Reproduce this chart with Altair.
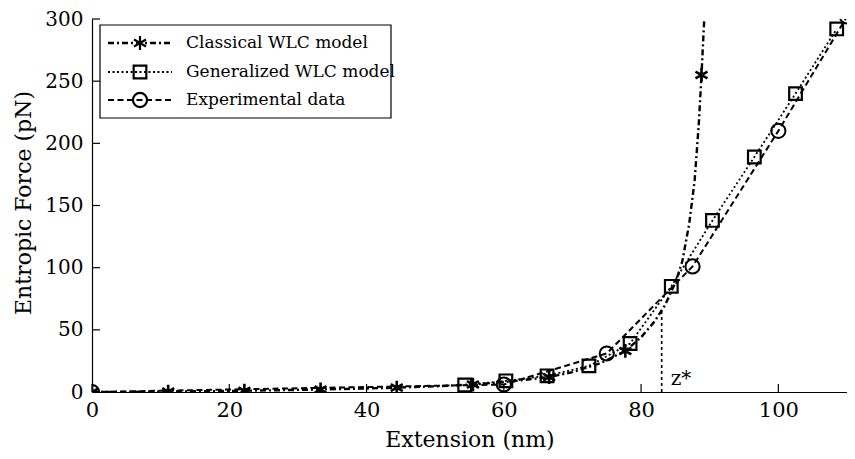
import altair as alt
import pandas as pd

# ---- data ----
classical_line_x = [0, 5, 11.1, 16, 22.2, 28, 33.3, 39, 44.4, 50, 55.5, 61, 66.6, 70, 74, 77.7, 80, 82, 83.5, 85, 86, 87, 87.8, 88.4, 88.8, 89.2]
classical_line_y = [0, 0.1, 0.3, 0.6, 1, 1.5, 2, 2.7, 3.5, 4.6, 6, 8.5, 12, 16, 23, 33, 44, 57, 70, 88, 105, 135, 170, 215, 255, 300]
classical_mark_x = [0, 11.1, 22.2, 33.3, 44.4, 55.5, 66.6, 77.7, 88.8]
classical_mark_y = [0, 0.3, 1, 2, 3.5, 6, 12, 33, 255]

generalized_x = [54.3, 60.3, 66.3, 72.4, 78.4, 84.4, 90.4, 96.5, 102.5, 108.5]
generalized_y = [5.6, 9, 13, 21, 39, 85, 138, 189, 240, 292]

experimental_x = [0, 60, 75, 87.5, 100, 110]
experimental_y = [0, 6, 31, 101, 210, 302]

legend_labels = ["Classical WLC model", "Generalized WLC model", "Experimental data"]
x_ticks = [0, 20, 40, 60, 80, 100]
y_ticks = [0, 50, 100, 150, 200, 250, 300]
z_star_x = [83.0, 83.0]
z_star_y = [0, 67]
z_star_label = "z*"

FONT = "DejaVu Serif"
W, H = 755, 373

xs = alt.Scale(domain=[0, 110], nice=False, zero=False)
ys = alt.Scale(domain=[0, 300], nice=False, zero=False)
common = dict(grid=False, tickSize=0, labelFont=FONT, titleFont=FONT,
              titleFontSize=22, titleFontWeight="normal", labelColor="black", titleColor="black",
              domainColor="black", domainWidth=1.2, titleBaseline="middle")
x_axis = alt.Axis(values=x_ticks, title="Extension (nm)", labelPadding=7, titleY=47,
                  labelFlush=False, labelFontSize=21, **common)
y_axis = alt.Axis(values=y_ticks, title="Entropic Force (pN)", labelPadding=9, titleX=-69,
                  titleY=H / 2 - 3, labelFontSize=20, **common)


def X(f):
    return alt.X(f, type="quantitative", scale=xs, axis=x_axis)


def Y(f):
    return alt.Y(f, type="quantitative", scale=ys, axis=y_axis)


cl_line_df = pd.DataFrame({"x": classical_line_x, "y": classical_line_y})
cl_mark_df = pd.DataFrame({"x": classical_mark_x, "y": classical_mark_y})
gen_df = pd.DataFrame({"x": generalized_x, "y": generalized_y})
exp_df = pd.DataFrame({"x": experimental_x, "y": experimental_y})
zs_df = pd.DataFrame({"x": z_star_x, "y": z_star_y})

STAR = "M0,-1L0,1M-0.87,-0.5L0.87,0.5M-0.87,0.5L0.87,-0.5"
DASH_CL = [6, 3, 2, 3]
DASH_GEN = [2, 2.5]
DASH_EXP = [6, 3.5]

layers = []

# z* guide
layers.append(alt.Chart(zs_df).mark_line(color="black", strokeWidth=1.6, strokeDash=[3, 3]).encode(x=X("x"), y=Y("y")))
layers.append(alt.Chart(pd.DataFrame({"x": [z_star_x[0]], "y": [0], "t": [z_star_label]})).mark_text(
    font=FONT, fontSize=20, align="left", baseline="bottom", dx=9, dy=-3, fill="black").encode(
    x=X("x"), y=Y("y"), text="t:N"))

# curves
layers.append(alt.Chart(exp_df).mark_line(color="black", strokeWidth=2, strokeDash=DASH_EXP, clip=True).encode(x=X("x"), y=Y("y")))
layers.append(alt.Chart(gen_df).mark_line(color="black", strokeWidth=1.8, strokeDash=DASH_GEN, clip=True).encode(x=X("x"), y=Y("y")))
layers.append(alt.Chart(cl_line_df).mark_line(color="black", strokeWidth=2.4, strokeDash=DASH_CL, clip=True).encode(x=X("x"), y=Y("y")))

# markers
layers.append(alt.Chart(exp_df).mark_point(shape="circle", size=200, filled=False, color="black", strokeWidth=2, opacity=1, clip=True).encode(x=X("x"), y=Y("y")))
layers.append(alt.Chart(gen_df).mark_point(shape="square", size=160, filled=False, color="black", strokeWidth=2.2, opacity=1, clip=True).encode(x=X("x"), y=Y("y")))
layers.append(alt.Chart(cl_mark_df).mark_point(shape=STAR, size=190, filled=False, color="black", strokeWidth=2.6, opacity=1, clip=True).encode(x=X("x"), y=Y("y")))

# inward ticks
layers.append(alt.Chart(pd.DataFrame({"v": x_ticks})).mark_rule(color="black", strokeWidth=1.2).encode(
    x=X("v"), y=alt.value(H), y2=alt.value(H - 8)))
layers.append(alt.Chart(pd.DataFrame({"v": y_ticks})).mark_rule(color="black", strokeWidth=1.2).encode(
    y=Y("v"), x=alt.value(0), x2=alt.value(8)))

# legend box
one = pd.DataFrame({"a": [0]})
layers.append(alt.Chart(one).mark_rect(fill="white", stroke="black", strokeWidth=1.2).encode(
    x=alt.value(8), x2=alt.value(299), y=alt.value(6), y2=alt.value(99)))

row_y = [24, 53, 81]
dashes = [DASH_CL, DASH_GEN, DASH_EXP]
shapes = [STAR, "square", "circle"]
sizes = [190, 160, 200]
widths = [2.4, 1.8, 2]
for i, lab in enumerate(legend_labels):
    d = pd.DataFrame({"label": [lab]})
    layers.append(alt.Chart(d).mark_rule(color="black", strokeWidth=widths[i], strokeDash=dashes[i]).encode(
        x=alt.value(16), x2=alt.value(80), y=alt.value(row_y[i])))
    layers.append(alt.Chart(d).mark_point(shape=shapes[i], size=sizes[i], filled=False, color="black",
                                          strokeWidth=2.2, opacity=1).encode(
        x=alt.value(48), y=alt.value(row_y[i])))
    layers.append(alt.Chart(d).mark_text(font=FONT, fontSize=17, align="left", baseline="middle", fill="black").encode(
        x=alt.value(94), y=alt.value(row_y[i]), text="label:N"))

chart = alt.layer(*layers).properties(
    width=W, height=H,
    autosize=alt.AutoSizeParams(type="none"),
    padding={"left": 84, "top": 11, "right": 0, "bottom": 66},
    background="white",
).configure_view(stroke=None)

chart.save("out.html", embed_options={"renderer": "svg", "actions": False})
